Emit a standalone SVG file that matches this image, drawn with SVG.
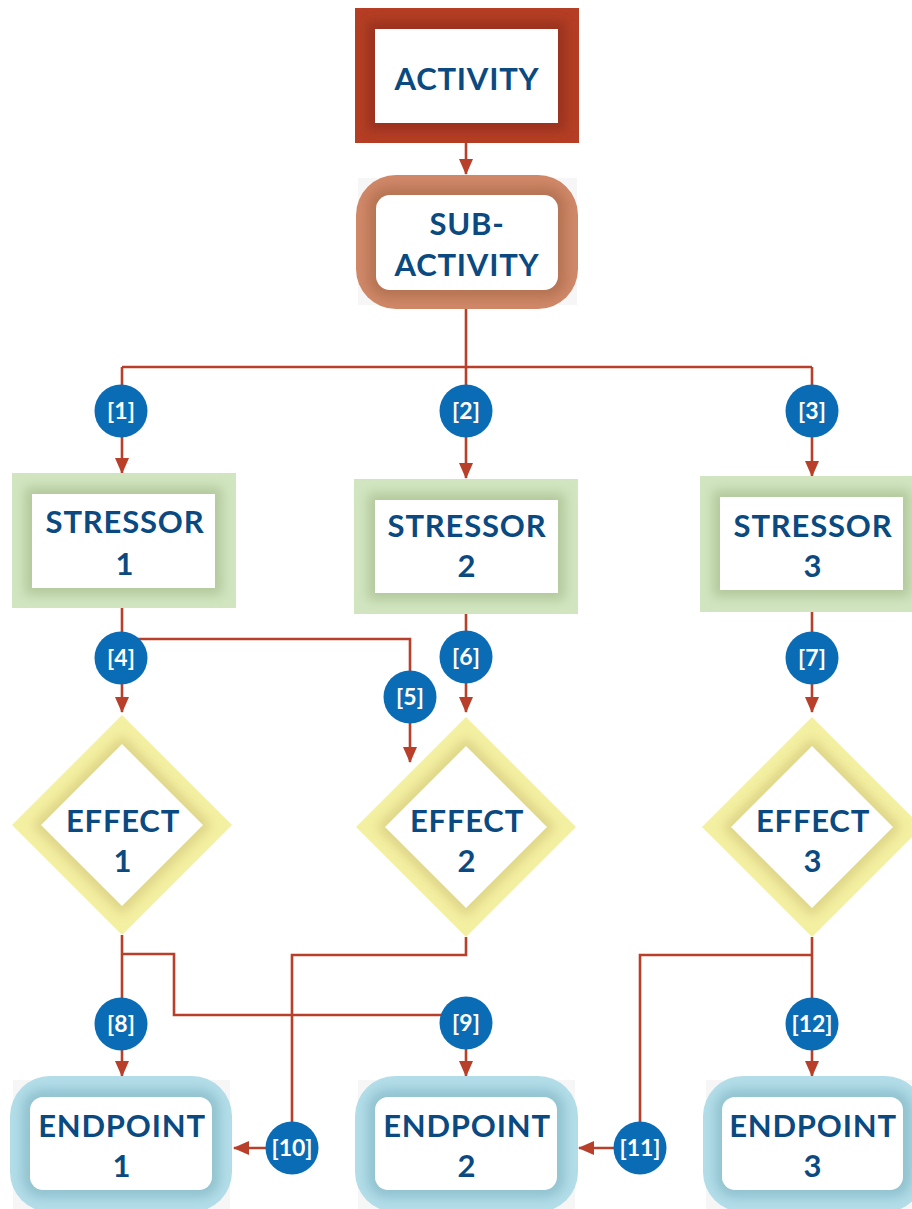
<svg xmlns="http://www.w3.org/2000/svg" width="912" height="1209" viewBox="0 0 912 1209">
<style>
.lbl{font-family:Lato,"Open Sans","Liberation Sans",sans-serif;font-weight:700;font-size:31px;letter-spacing:0.8px;fill:#0b4a80;text-anchor:middle}
.num{font-family:Lato,"Open Sans","Liberation Sans",sans-serif;font-weight:700;font-size:23px;fill:#ffffff;text-anchor:middle}
.badge{fill:#0a6cb5}
.conn{stroke:#b8402a;stroke-width:2.6;fill:none}
.arr{stroke:#b8402a;stroke-width:2.6;fill:none;marker-end:url(#ah)}
.white{fill:#ffffff}
.bg{fill:#f6f6f6}
.sh{filter:url(#blur)}
</style>
<defs>
<marker id="ah" markerUnits="userSpaceOnUse" markerWidth="17" markerHeight="14" refX="15" refY="7" orient="auto">
<path d="M0,0 L16,7 L0,14 Z" fill="#b8402a"/>
</marker>
<filter id="blur" x="-20%" y="-20%" width="140%" height="140%"><feGaussianBlur stdDeviation="6"/></filter>
<clipPath id="cA"><rect x="355" y="8" width="224" height="135"/></clipPath>
<clipPath id="cSA"><rect x="356" y="175" width="222" height="134" rx="40"/></clipPath>
<clipPath id="cS1"><rect x="12" y="473" width="224" height="135"/></clipPath>
<clipPath id="cS2"><rect x="354" y="479" width="224" height="135"/></clipPath>
<clipPath id="cS3"><rect x="700" y="476" width="224" height="136"/></clipPath>
<clipPath id="cE1"><polygon points="122,715 232,825 122,935 12,825"/></clipPath>
<clipPath id="cE2"><polygon points="466,717 576,827 466,937 356,827"/></clipPath>
<clipPath id="cE3"><polygon points="812,717 922,827 812,937 702,827"/></clipPath>
<clipPath id="cP1"><rect x="10" y="1076" width="222" height="136" rx="40"/></clipPath>
<clipPath id="cP2"><rect x="355" y="1076" width="223" height="136" rx="40"/></clipPath>
<clipPath id="cP3"><rect x="703" y="1076" width="222" height="136" rx="40"/></clipPath>
</defs>
<rect width="912" height="1209" fill="#ffffff"/>

<g id="connectors">
<path class="arr" d="M466,143 V174"/>
<path class="conn" d="M466,309 V367 M122,367 H812"/>
<path class="arr" d="M122,367 V473"/>
<path class="arr" d="M466,367 V478"/>
<path class="arr" d="M812,367 V476"/>
<path class="arr" d="M122,608 V712"/>
<path class="arr" d="M122,639 H410 V762"/>
<path class="arr" d="M466,614 V712"/>
<path class="arr" d="M812,612 V712"/>
<path class="arr" d="M122,935 V1076"/>
<path class="arr" d="M122,954 H174 V1015 H466 V1076"/>
<path class="conn" d="M466,937 V955 H292 V1148"/>
<path class="arr" d="M292,1148 H234"/>
<path class="arr" d="M812,937 V1076"/>
<path class="conn" d="M812,955 H640 V1148"/>
<path class="arr" d="M640,1148 H579"/>
</g>

<g id="activity">
<rect x="355" y="8" width="224" height="135" fill="#b53e25"/>
<g clip-path="url(#cA)"><rect class="sh" x="367" y="21" width="199" height="110" fill="#9a321d"/></g>
<rect class="white" x="375" y="29" width="183" height="94"/>
<text class="lbl" x="467" y="90">ACTIVITY</text>
</g>

<g id="sub-activity">
<rect class="bg" x="358" y="178" width="219" height="127"/>
<rect x="356" y="175" width="222" height="134" rx="40" fill="#d08868"/>
<g clip-path="url(#cSA)"><rect class="sh" x="368" y="187" width="198" height="111" rx="20" fill="#b57352"/></g>
<rect class="white" x="376" y="195" width="182" height="95" rx="14"/>
<text class="lbl" x="467" y="235">SUB-</text>
<text class="lbl" x="467" y="276">ACTIVITY</text>
</g>

<g id="stressor1">
<rect x="12" y="473" width="224" height="135" fill="#d1e5c0"/>
<g clip-path="url(#cS1)"><rect class="sh" x="25" y="487" width="197" height="108" fill="#b2c89b"/></g>
<rect class="white" x="32" y="494" width="183" height="94"/>
<text class="lbl" x="125" y="533">STRESSOR</text>
<text class="lbl" x="125" y="575">1</text>
</g>

<g id="stressor2">
<rect x="354" y="479" width="224" height="135" fill="#d1e5c0"/>
<g clip-path="url(#cS2)"><rect class="sh" x="368" y="493" width="197" height="107" fill="#b2c89b"/></g>
<rect class="white" x="375" y="500" width="183" height="93"/>
<text class="lbl" x="467" y="537">STRESSOR</text>
<text class="lbl" x="467" y="577">2</text>
</g>

<g id="stressor3">
<rect x="700" y="476" width="224" height="136" fill="#d1e5c0"/>
<g clip-path="url(#cS3)"><rect class="sh" x="713" y="490" width="197" height="107" fill="#b2c89b"/></g>
<rect class="white" x="720" y="497" width="183" height="93"/>
<text class="lbl" x="813" y="537">STRESSOR</text>
<text class="lbl" x="813" y="577">3</text>
</g>

<g id="effect1">
<polygon points="122,715 232,825 122,935 12,825" fill="#f4f0a2"/>
<g clip-path="url(#cE1)"><polygon class="sh" points="122,735 212,825 122,915 32,825" fill="#ddd385"/></g>
<polygon class="white" points="122,744 203,825 122,906 41,825"/>
<text class="lbl" x="123" y="832">EFFECT</text>
<text class="lbl" x="123" y="872">1</text>
</g>

<g id="effect2">
<polygon points="466,717 576,827 466,937 356,827" fill="#f4f0a2"/>
<g clip-path="url(#cE2)"><polygon class="sh" points="466,737 556,827 466,917 376,827" fill="#ddd385"/></g>
<polygon class="white" points="466,746 547,827 466,908 385,827"/>
<text class="lbl" x="467" y="832">EFFECT</text>
<text class="lbl" x="467" y="872">2</text>
</g>

<g id="effect3">
<polygon points="812,717 922,827 812,937 702,827" fill="#f4f0a2"/>
<g clip-path="url(#cE3)"><polygon class="sh" points="812,737 902,827 812,917 722,827" fill="#ddd385"/></g>
<polygon class="white" points="812,746 893,827 812,908 731,827"/>
<text class="lbl" x="813" y="832">EFFECT</text>
<text class="lbl" x="813" y="872">3</text>
</g>

<g id="endpoint1">
<rect class="bg" x="13" y="1080" width="217" height="129"/>
<rect x="10" y="1076" width="222" height="136" rx="40" fill="#b3dee9"/>
<g clip-path="url(#cP1)"><rect class="sh" x="22" y="1089" width="198" height="109" rx="20" fill="#91c2cf"/></g>
<rect class="white" x="30" y="1097" width="182" height="93" rx="13"/>
<text class="lbl" x="122" y="1137">ENDPOINT</text>
<text class="lbl" x="122" y="1177">1</text>
</g>

<g id="endpoint2">
<rect class="bg" x="358" y="1080" width="217" height="129"/>
<rect x="355" y="1076" width="223" height="136" rx="40" fill="#b3dee9"/>
<g clip-path="url(#cP2)"><rect class="sh" x="367" y="1089" width="198" height="109" rx="20" fill="#91c2cf"/></g>
<rect class="white" x="375" y="1097" width="182" height="93" rx="13"/>
<text class="lbl" x="467" y="1137">ENDPOINT</text>
<text class="lbl" x="467" y="1177">2</text>
</g>

<g id="endpoint3">
<rect class="bg" x="706" y="1080" width="206" height="129"/>
<rect x="703" y="1076" width="222" height="136" rx="40" fill="#b3dee9"/>
<g clip-path="url(#cP3)"><rect class="sh" x="715" y="1089" width="197" height="109" rx="20" fill="#91c2cf"/></g>
<rect class="white" x="722" y="1097" width="181" height="93" rx="13"/>
<text class="lbl" x="813" y="1137">ENDPOINT</text>
<text class="lbl" x="813" y="1177">3</text>
</g>

<g id="badges">
<circle class="badge" cx="121" cy="411" r="26.5"/><text class="num" x="121" y="419">[1]</text>
<circle class="badge" cx="466" cy="411" r="26.5"/><text class="num" x="466" y="419">[2]</text>
<circle class="badge" cx="812" cy="411" r="26.5"/><text class="num" x="812" y="419">[3]</text>
<circle class="badge" cx="121" cy="658" r="26.5"/><text class="num" x="121" y="666">[4]</text>
<circle class="badge" cx="410" cy="697" r="26.5"/><text class="num" x="410" y="705">[5]</text>
<circle class="badge" cx="466" cy="657" r="26.5"/><text class="num" x="466" y="665">[6]</text>
<circle class="badge" cx="812" cy="658" r="26.5"/><text class="num" x="812" y="666">[7]</text>
<circle class="badge" cx="121" cy="1024" r="26.5"/><text class="num" x="121" y="1032">[8]</text>
<circle class="badge" cx="466" cy="1023" r="26.5"/><text class="num" x="466" y="1031">[9]</text>
<circle class="badge" cx="292" cy="1148" r="26.5"/><text class="num" x="292" y="1156">[10]</text>
<circle class="badge" cx="640" cy="1148" r="26.5"/><text class="num" x="640" y="1156">[11]</text>
<circle class="badge" cx="812" cy="1024" r="26.5"/><text class="num" x="812" y="1032">[12]</text>
</g>
</svg>
